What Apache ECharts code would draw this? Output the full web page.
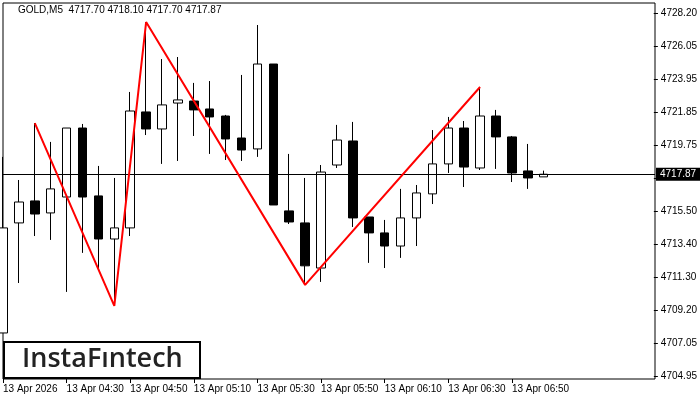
<!DOCTYPE html>
<html><head><meta charset="utf-8">
<script src="https://cdn.jsdelivr.net/npm/echarts@6/dist/echarts.min.js"></script>
<style>html,body{margin:0;padding:0;background:#fff}#c{width:700px;height:400px}</style>
</head><body><div id="c"></div>
<script>
// OHLC: [open, close, low, high]
const opens  = [4707.70,4714.75,4716.16,4715.39,4716.41,4720.83,4716.48,4713.72,4714.43,4721.86,4720.77,4722.43,4722.56,4722.05,4721.60,4720.19,4719.49,4724.93,4715.52,4714.75,4711.86,4718.46,4720.00,4715.13,4714.11,4713.27,4715.07,4716.61,4718.53,4720.83,4718.27,4721.60,4720.26,4718.08,4717.70];
const closes = [4714.43,4716.09,4715.32,4716.93,4720.83,4716.41,4713.72,4714.43,4721.92,4720.77,4722.31,4722.63,4721.99,4721.54,4720.13,4719.42,4724.93,4715.90,4714.81,4712.00,4718.01,4720.06,4715.07,4714.11,4713.27,4715.07,4716.67,4718.53,4720.83,4718.33,4721.60,4720.26,4717.95,4717.63,4717.87];
const lows   = [4707.70,4710.90,4713.91,4713.66,4710.33,4712.83,4711.74,4709.43,4713.91,4720.38,4718.53,4718.72,4720.32,4719.17,4718.78,4718.72,4718.98,4715.90,4714.68,4710.78,4710.97,4718.27,4714.49,4712.19,4711.86,4712.51,4713.27,4715.96,4717.95,4717.05,4718.14,4718.21,4717.37,4716.93,4717.70];
const highs  = [4718.98,4717.50,4721.15,4719.94,4720.83,4721.09,4718.40,4717.63,4723.14,4727.62,4725.25,4725.38,4723.72,4723.84,4721.67,4724.23,4727.43,4724.93,4719.17,4717.63,4718.46,4721.03,4721.22,4715.13,4714.94,4716.93,4717.18,4720.70,4721.54,4721.28,4723.46,4721.99,4720.32,4719.81,4718.10];
const times = ['13 Apr 2026','04:15','04:20','04:25','13 Apr 04:30','04:35','04:40','04:45','13 Apr 04:50','04:55','05:00','05:05','13 Apr 05:10','05:15','05:20','05:25','13 Apr 05:30','05:35','05:40','05:45','13 Apr 05:50','05:55','06:00','06:05','13 Apr 06:10','06:15','06:20','06:25','13 Apr 06:30','06:35','06:40','06:45','13 Apr 06:50','06:55','07:00'];
const patternIdx = [2,7,9,19,30];
const patternVal = [4721.15,4709.43,4727.62,4710.78,4723.46];
const yTickLabels = ['4704.95','4707.05','4709.20','4711.30','4713.40','4715.50','4717.65','4719.75','4721.85','4723.95','4726.05','4728.20'];
const lastPrice = 4717.87;

const nSlots = 42;
const cats = []; for (let i=0;i<nSlots;i++) cats.push(i<times.length?times[i]:'');
const candles = opens.map((o,i)=>[o,closes[i],lows[i],highs[i]]);
const zig = cats.map(()=>null);
patternIdx.forEach((k,j)=>zig[k]=patternVal[j]);
const font = 'Liberation Sans';

const chart = echarts.init(document.getElementById('c'));
chart.setOption({
  animation:false,
  grid:[
    {left:3,right:45,top:3,bottom:21,show:true,borderColor:'#000',borderWidth:1,backgroundColor:'#fff'},
    {left:3,right:45,top:13,bottom:24,show:false}
  ],
  xAxis:[
    {type:'category',data:cats,boundaryGap:false,gridIndex:0,
     axisLine:{show:false},axisTick:{show:true,interval:(i)=>i%4===0&&i<=32,length:4,lineStyle:{color:'#000'}},
     axisLabel:{interval:(i)=>i%4===0&&i<=32,align:'left',margin:5,fontFamily:font,fontSize:10,color:'#000'},
     splitLine:{show:false}},
    {type:'category',data:cats,gridIndex:1,show:false}
  ],
  yAxis:[
    {type:'value',min:4704.75,max:4728.84,gridIndex:0,position:'right',
     axisLine:{show:false},axisTick:{show:false},axisLabel:{show:false},splitLine:{show:false}},
    {type:'value',gridIndex:1,position:'right',min:4704.95,max:4728.20,interval:(4728.20-4704.95)/11,
     axisLine:{show:false},axisTick:{show:true,inside:false,length:4,lineStyle:{color:'#000'}},
     axisLabel:{margin:7,fontFamily:font,fontSize:10,color:'#000',
       formatter:(v,i)=> (i===6)?'':(yTickLabels[i]||'')},
     splitLine:{show:false}}
  ],
  series:[
    {type:'candlestick',data:candles,barWidth:9,
     itemStyle:{color:'#fff',color0:'#000',borderColor:'#000',borderColor0:'#000',borderWidth:1},
     markLine:{symbol:'none',silent:true,animation:false,
       lineStyle:{color:'#000',type:'solid',width:1},
       label:{position:'end',formatter:lastPrice.toFixed(2),color:'#fff',backgroundColor:'#000',
         padding:[2,4,1,4],fontFamily:font,fontSize:10,distance:1},
       data:[{yAxis:lastPrice}]}},
    {type:'line',data:zig,connectNulls:true,showSymbol:false,symbol:'none',
     lineStyle:{color:'#ff0000',width:2},z:5}
  ],
  graphic:[
    {type:'text',left:18,top:5,style:{text:'GOLD,M5  4717.70 4718.10 4717.70 4717.87',fontFamily:font,fontSize:10,fill:'#000'}},
    {type:'rect',shape:{x:4,y:342,width:196,height:36},style:{fill:'#fff',stroke:'#000',lineWidth:2},z:10},
    {type:'text',x:22,y:346,style:{text:'InstaFıntech',fontFamily:'Open Sans',fontSize:27,fontWeight:600,fill:'#222'},z:11}
  ]
});
</script></body></html>
